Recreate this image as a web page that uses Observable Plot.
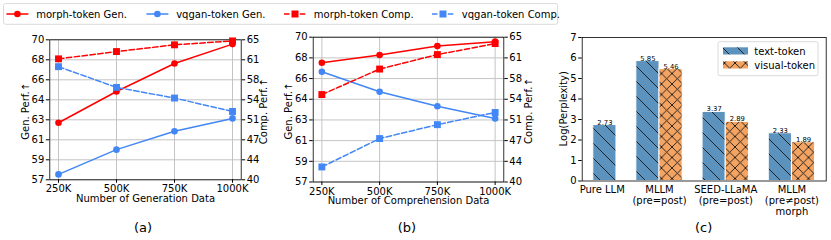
<!DOCTYPE html>
<html><head><meta charset="utf-8">
<script src="https://cdn.jsdelivr.net/npm/d3@7"></script>
<script src="https://cdn.jsdelivr.net/npm/@observablehq/plot@0.6"></script>
<style>
body{margin:0;background:#fff;}
#root{position:relative;width:831px;height:240px;overflow:hidden;font-family:"DejaVu Sans",sans-serif;background:#fff;}
#root svg.layer{position:absolute;left:0;top:0;}
</style></head><body>
<svg width="0" height="0" style="position:absolute">
<defs>
<pattern id="hatchText" patternUnits="userSpaceOnUse" width="15" height="15">
<rect width="15" height="15" fill="#5B93BE"/>
<path d="M0,0L15,15M-3,12L3,18M12,-3L18,3" stroke="#151515" stroke-width="0.9"/>
</pattern>
<pattern id="hatchVisual" patternUnits="userSpaceOnUse" width="10.5" height="10.5">
<rect width="10.5" height="10.5" fill="#F4A462"/>
<path d="M0,0L10.5,10.5M-3,7.5L3,13.5M7.5,-3L13.5,3M0,10.5L10.5,0M-3,3L3,-3M7.5,13.5L13.5,7.5" stroke="#151515" stroke-width="0.9"/>
</pattern>
</defs></svg>
<div id="root"></div>
<script>
// ---------------- data ----------------
const dataSizesK = [250, 500, 750, 1000];
const genTickLabels = [57, 59, 61, 63, 64, 66, 68, 70];
const compTickLabels = [40, 44, 47, 51, 54, 58, 61, 65];

// (a) varying generation data
const aMorphGen   = [62.3, 65.2, 67.8, 69.6];
const aVqganGen   = [57.5, 59.8, 61.5, 62.7];
const aMorphComp  = [61.6, 62.9, 64.1, 64.8];
const aVqganComp  = [60.2, 56.5, 54.6, 52.2];

// (b) varying comprehension data
const bMorphGen   = [67.7, 68.4, 69.2, 69.6];
const bVqganGen   = [66.9, 65.1, 63.8, 62.7];
const bMorphComp  = [55.1, 59.5, 62.0, 63.9];
const bVqganComp  = [42.6, 47.5, 49.9, 52.0];

// (c) perplexity
const barCategories = ["Pure LLM", "MLLM\n(pre=post)", "SEED-LLaMA\n(pre=post)", "MLLM\n(pre≠post)\nmorph"];
const textTokenPPL   = [2.73, 5.85, 3.37, 2.33];
const visualTokenPPL = [null, 5.46, 2.89, 1.89];
const pplTicks = [0, 1, 2, 3, 4, 5, 6, 7];

const legendLabels = ["morph-token Gen.", "vqgan-token Gen.", "morph-token Comp.", "vqgan-token Comp."];
const barLegendLabels = ["text-token", "visual-token"];

// ---------------- styling ----------------
const RED = "#ff0000", BLUE = "#4287f5";
const W = 831, H = 240;
const root = document.getElementById("root");
const baseStyle = {background: "transparent", fontFamily: "DejaVu Sans", fontSize: "10px", color: "black", overflow: "visible"};

function margins(b) {
  return {marginLeft: b.left, marginRight: W - b.right, marginTop: b.top, marginBottom: H - b.bottom};
}
function evenTicks(labels) {
  const lo = labels[0], hi = labels[labels.length - 1], n = labels.length - 1;
  return {
    ticks: labels.map((_, i) => lo + i * (hi - lo) / n),
    fmt: d => labels[Math.round((d - lo) / (hi - lo) * n)],
    domain: [lo, hi]
  };
}
function addLayer(opts) {
  const svg = Plot.plot({width: W, height: H, style: baseStyle, ...opts});
  svg.classList.add("layer");
  svg.style.position = "absolute"; svg.style.left = "0"; svg.style.top = "0";
  root.append(svg);
  return svg;
}
const title = {textAnchor: "middle", lineAnchor: "middle", fontSize: 10, text: d => d};

const genT = evenTicks(genTickLabels);
const compT = evenTicks(compTickLabels);
const xDom = [212.5, 1037.5];
const grid = {stroke: "#c4c4c4", strokeOpacity: 1, strokeWidth: 1};

function linePanel(box, xTitle, morphGen, vqGen, morphComp, vqComp) {
  const rows = dataSizesK.map((x, i) => ({x, mg: morphGen[i], vg: vqGen[i], mc: morphComp[i], vc: vqComp[i]}));
  addLayer({
    ...margins(box),
    x: {domain: xDom, label: null},
    y: {domain: genT.domain, label: null},
    marks: [
      Plot.gridX(dataSizesK, grid),
      Plot.gridY(genT.ticks, grid),
      Plot.line(rows, {x: "x", y: "vg", stroke: BLUE, strokeWidth: 1.5}),
      Plot.dot(rows, {x: "x", y: "vg", fill: BLUE, r: 3.3, symbol: "circle"}),
      Plot.line(rows, {x: "x", y: "mg", stroke: RED, strokeWidth: 1.5}),
      Plot.dot(rows, {x: "x", y: "mg", fill: RED, r: 3.3, symbol: "circle"}),
      Plot.axisX({ticks: dataSizesK, tickFormat: d => d + "K", tickSize: 3.5, tickPadding: 2, fontSize: 10}),
      Plot.axisY({ticks: genT.ticks, tickFormat: genT.fmt, tickSize: 3.5, tickPadding: 2, fontSize: 10}),
      Plot.frame({stroke: "black", strokeWidth: 0.8}),
      Plot.text([xTitle], {...title, frameAnchor: "bottom", dy: 19})
    ]
  });
  addLayer({
    ...margins(box),
    x: {domain: xDom, label: null, axis: null},
    y: {domain: compT.domain, label: null, axis: null},
    marks: [
      Plot.line(rows, {x: "x", y: "vc", stroke: BLUE, strokeWidth: 1.5, strokeDasharray: "5.5,2.4"}),
      Plot.dot(rows, {x: "x", y: "vc", fill: BLUE, r: 3.9, symbol: "square"}),
      Plot.line(rows, {x: "x", y: "mc", stroke: RED, strokeWidth: 1.5, strokeDasharray: "5.5,2.4"}),
      Plot.dot(rows, {x: "x", y: "mc", fill: RED, r: 3.9, symbol: "square"}),
      Plot.axisY({anchor: "right", ticks: compT.ticks, tickFormat: compT.fmt, tickSize: 3.5, tickPadding: 2, fontSize: 10})
    ]
  });
}

const boxA = {left: 49.3, right: 240.7, top: 39.3, bottom: 179.3};
const boxB = {left: 312.7, right: 503.3, top: 36.7, bottom: 181.5};
linePanel(boxA, "Number of Generation Data", aMorphGen, aVqganGen, aMorphComp, aVqganComp);
linePanel(boxB, "Number of Comprehension Data", bMorphGen, bVqganGen, bMorphComp, bVqganComp);

// (c) bar chart
const boxC = {left: 581.7, right: 825.7, top: 37, bottom: 180.5};
const bw = 0.35;
const barRows = [];
barCategories.forEach((c, i) => {
  const hasVis = visualTokenPPL[i] != null;
  const tx1 = hasVis ? i - bw : i;
  barRows.push({kind: "text", x1: tx1, x2: tx1 + bw, v: textTokenPPL[i]});
  if (hasVis) barRows.push({kind: "visual", x1: i, x2: i + bw, v: visualTokenPPL[i]});
});
const catRows = barCategories.map((c, i) => ({c, x: visualTokenPPL[i] != null ? i : i + bw / 2 - 0.04}));

addLayer({
  ...margins(boxC),
  x: {domain: [-0.1675, 3.5175], label: null, axis: null},
  y: {domain: [0, 7], label: null, axis: null},
  marks: [
    Plot.rectY(barRows.filter(d => d.kind === "text"), {x1: "x1", x2: "x2", y: "v", fill: "url(#hatchText)", stroke: "white", strokeWidth: 1}),
    Plot.rectY(barRows.filter(d => d.kind === "visual"), {x1: "x1", x2: "x2", y: "v", fill: "url(#hatchVisual)", stroke: "white", strokeWidth: 1}),
    Plot.text(barRows, {x: d => (d.x1 + d.x2) / 2, y: "v", text: d => d.v.toFixed(2), lineAnchor: "bottom", dy: -0.5, fontSize: 6.8}),
    Plot.axisY({ticks: pplTicks, tickFormat: d => String(d), tickSize: 3.5, tickPadding: 2, fontSize: 10}),
    Plot.frame({stroke: "black", strokeWidth: 0.8}),
    Plot.text(catRows, {x: "x", y: 0, text: "c", textAnchor: "middle", lineAnchor: "top", dy: 4.5, fontSize: 10, lineHeight: 1.08})
  ]
});

// ---------------- legends, rotated axis titles and captions (overlay) ----------------
const ov = d3.select(root).append("svg").attr("class", "layer").attr("width", W).attr("height", H)
  .style("position", "absolute").style("left", 0).style("top", 0)
  .attr("font-family", "DejaVu Sans");

function vTitle(t, x, y) {
  ov.append("text").attr("transform", `translate(${x},${y}) rotate(-90)`)
    .attr("text-anchor", "middle").attr("dy", "0.35em").attr("font-size", 10).text(t);
}
vTitle("Gen. Perf.↑", boxA.left - 24.3, (boxA.top + boxA.bottom) / 2 + 2);
vTitle("Comp. Perf.↑", boxA.right + 22.6, (boxA.top + boxA.bottom) / 2 + 2);
vTitle("Gen. Perf.↑", boxB.left - 24.5, (boxB.top + boxB.bottom) / 2 + 2);
vTitle("Comp. Perf.↑", boxB.right + 25, (boxB.top + boxB.bottom) / 2 + 2);
vTitle("Log(Perplexity)", boxC.left - 18.4, (boxC.top + boxC.bottom) / 2);

// top legend
ov.append("rect").attr("x", 3.6).attr("y", 3.6).attr("width", 554).attr("height", 20.7)
  .attr("rx", 2).attr("fill", "white").attr("fill-opacity", 0.8).attr("stroke", "#d0d0d0").attr("stroke-width", 0.8);
const legX = [6.4, 146.4, 284, 432];
const legY = 14;
legendLabels.forEach((lab, i) => {
  const col = i % 2 === 0 ? RED : BLUE;
  const dashed = i >= 2;
  const x0 = legX[i], x1 = x0 + 22;
  ov.append("line").attr("x1", x0).attr("x2", x1).attr("y1", legY).attr("y2", legY)
    .attr("stroke", col).attr("stroke-width", 1.5).attr("stroke-dasharray", dashed ? "5.5,2.4" : null);
  if (dashed) {
    ov.append("rect").attr("x", (x0 + x1) / 2 - 3.5).attr("y", legY - 3.5).attr("width", 7).attr("height", 7).attr("fill", col);
  } else {
    ov.append("circle").attr("cx", (x0 + x1) / 2).attr("cy", legY).attr("r", 3.3).attr("fill", col);
  }
  ov.append("text").attr("x", x1 + 7.8).attr("y", legY).attr("dy", "0.35em").attr("font-size", 10).text(lab);
});

// bar legend
ov.append("rect").attr("x", 718).attr("y", 41.7).attr("width", 100).attr("height", 34)
  .attr("rx", 2).attr("fill", "white").attr("fill-opacity", 0.8).attr("stroke", "#d0d0d0").attr("stroke-width", 0.8);
barLegendLabels.forEach((lab, i) => {
  const y = 47.3 + i * 14;
  ov.append("rect").attr("x", 723).attr("y", y).attr("width", 25).attr("height", 7.2)
    .attr("fill", i === 0 ? "url(#hatchText)" : "url(#hatchVisual)");
  ov.append("text").attr("x", 754.3).attr("y", y + 3.8).attr("dy", "0.35em").attr("font-size", 10).text(lab);
});

// panel captions
[["(a)", (boxA.left + boxA.right) / 2 - 2], ["(b)", (boxB.left + boxB.right) / 2 - 1], ["(c)", (boxC.left + boxC.right) / 2]]
  .forEach(([t, x]) => {
    ov.append("text").attr("x", x).attr("y", 227).attr("dy", "0.35em").attr("text-anchor", "middle").attr("font-size", 13).text(t);
  });
</script>
</body></html>
